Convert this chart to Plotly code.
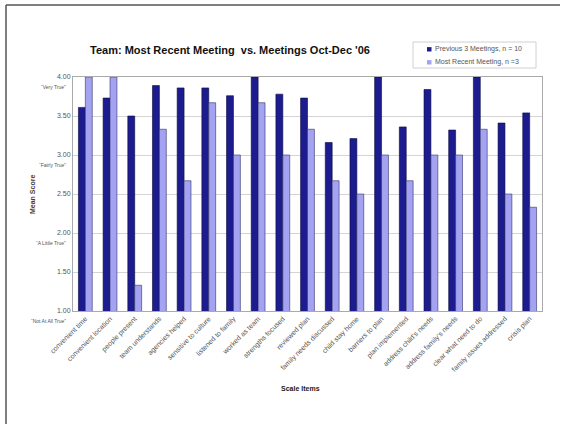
import plotly.graph_objects as go

categories = ["convenient time", "convenient location", "people present", "team understands",
              "agencies helped", "sensitive to culture", "listened to family", "worked as team",
              "strengths focused", "reviewed plan", "family needs discussed", "child stay home",
              "barriers to plan", "plan implemented", "address child's needs",
              "address family's needs", "clear what need to do", "family issues addressed",
              "crisis plan"]
previous_3 = [3.61, 3.73, 3.50, 3.89, 3.86, 3.86, 3.76, 4.00, 3.78, 3.73, 3.16, 3.21,
              4.00, 3.36, 3.84, 3.32, 4.00, 3.41, 3.54]
most_recent = [4.00, 4.00, 1.33, 3.33, 2.67, 3.67, 3.00, 3.67, 3.00, 3.33, 2.67, 2.50,
               3.00, 2.67, 3.00, 3.00, 3.33, 2.50, 2.33]
series_names = ["Previous 3 Meetings, n = 10", "Most Recent Meeting, n =3"]
tick_vals = [1.0, 1.5, 2.0, 2.5, 3.0, 3.5, 4.0]
tick_text = ["1.00", "1.50", "2.00", "2.50", "3.00", "3.50", "4.00"]
anchor_vals = [4.0, 3.0, 2.0, 1.0]
anchor_text = ["\u201cVery True\u201d", "\u201cFairly True\u201d", "\u201cA Little True\u201d", "\u201cNot At All True\u201d"]

FONT = "Arial, Liberation Sans, sans-serif"
DARK = "#1c1c8f"
LIGHT = "#a3a3f2"

W, H = 562, 424
L, R, T, B = 73, 20, 77, 113
PW, PH = W - L - R, H - T - B


def px(x):
    return (x - L) / PW


def py(y):
    return (H - B - y) / PH


fig = go.Figure()
fig.add_trace(go.Bar(x=categories, y=previous_3, name=series_names[0],
                     marker=dict(color=DARK, line=dict(color="#0a0a40", width=0.6))))
fig.add_trace(go.Bar(x=categories, y=most_recent, name=series_names[1],
                     marker=dict(color=LIGHT, line=dict(color="#333366", width=0.6))))

fig.update_layout(
    width=W, height=H,
    margin=dict(l=L, r=R, t=T, b=B),
    paper_bgcolor="white", plot_bgcolor="white",
    barmode="group", bargap=0.44, bargroupgap=0,
    font=dict(family=FONT, color="#444", size=7),
    showlegend=False,
    xaxis=dict(tickangle=-45, tickfont=dict(size=7, color="#555"),
               showline=True, linecolor="#aaa", mirror=True, ticks=""),
    yaxis=dict(range=[1, 4], tickvals=tick_vals, ticktext=tick_text,
               tickfont=dict(size=7, color="#555"),
               showgrid=True, gridcolor="#d4d4d4", gridwidth=1,
               showline=True, linecolor="#aaa", mirror=True, ticks="", zeroline=False),
)

for v, t in zip(anchor_vals, anchor_text):
    fig.add_annotation(x=0, y=v, xref="paper", yref="y", text=t, showarrow=False,
                       xanchor="right", yanchor="middle", xshift=-5, yshift=-10,
                       font=dict(size=5, color="#555"))

fig.add_annotation(x=px(230), y=py(50), xref="paper", yref="paper",
                   text="<b>Team: Most Recent Meeting\u00a0 vs. Meetings Oct-Dec '06</b>",
                   showarrow=False, xanchor="center", yanchor="middle",
                   font=dict(size=11, color="#111"))
fig.add_annotation(x=px(300), y=py(388), xref="paper", yref="paper", text="<b>Scale Items</b>",
                   showarrow=False, xanchor="center", yanchor="middle",
                   font=dict(size=7, color="#222"))
fig.add_annotation(x=px(32), y=py(195), xref="paper", yref="paper", text="<b>Mean Score</b>",
                   showarrow=False, textangle=-90, xanchor="center", yanchor="middle",
                   font=dict(size=7, color="#4a3a2a"))

# custom compact legend
fig.add_shape(type="rect", xref="paper", yref="paper", x0=px(413), x1=px(536), y0=py(68), y1=py(42),
              line=dict(color="#d0d0d0", width=1), fillcolor="white")
for i, (name, col) in enumerate(zip(series_names, [DARK, LIGHT])):
    cy = 49.3 + i * 13
    fig.add_shape(type="rect", xref="paper", yref="paper", x0=px(427), x1=px(431.5),
                  y0=py(cy + 2.2), y1=py(cy - 2.2), line=dict(width=0), fillcolor=col)
    fig.add_annotation(x=px(432.5), y=py(cy), xref="paper", yref="paper", text=name,
                       showarrow=False, xanchor="left", yanchor="middle",
                       font=dict(size=7, color="#555"))

# outer frame lines (top and left)
fig.add_shape(type="line", xref="paper", yref="paper", x0=px(6), x1=px(560), y0=py(5), y1=py(5),
              line=dict(color="#555", width=1.5))
fig.add_shape(type="line", xref="paper", yref="paper", x0=px(6), x1=px(6), y0=py(5), y1=py(424),
              line=dict(color="#555", width=1.5))

fig.write_html("out.html")
